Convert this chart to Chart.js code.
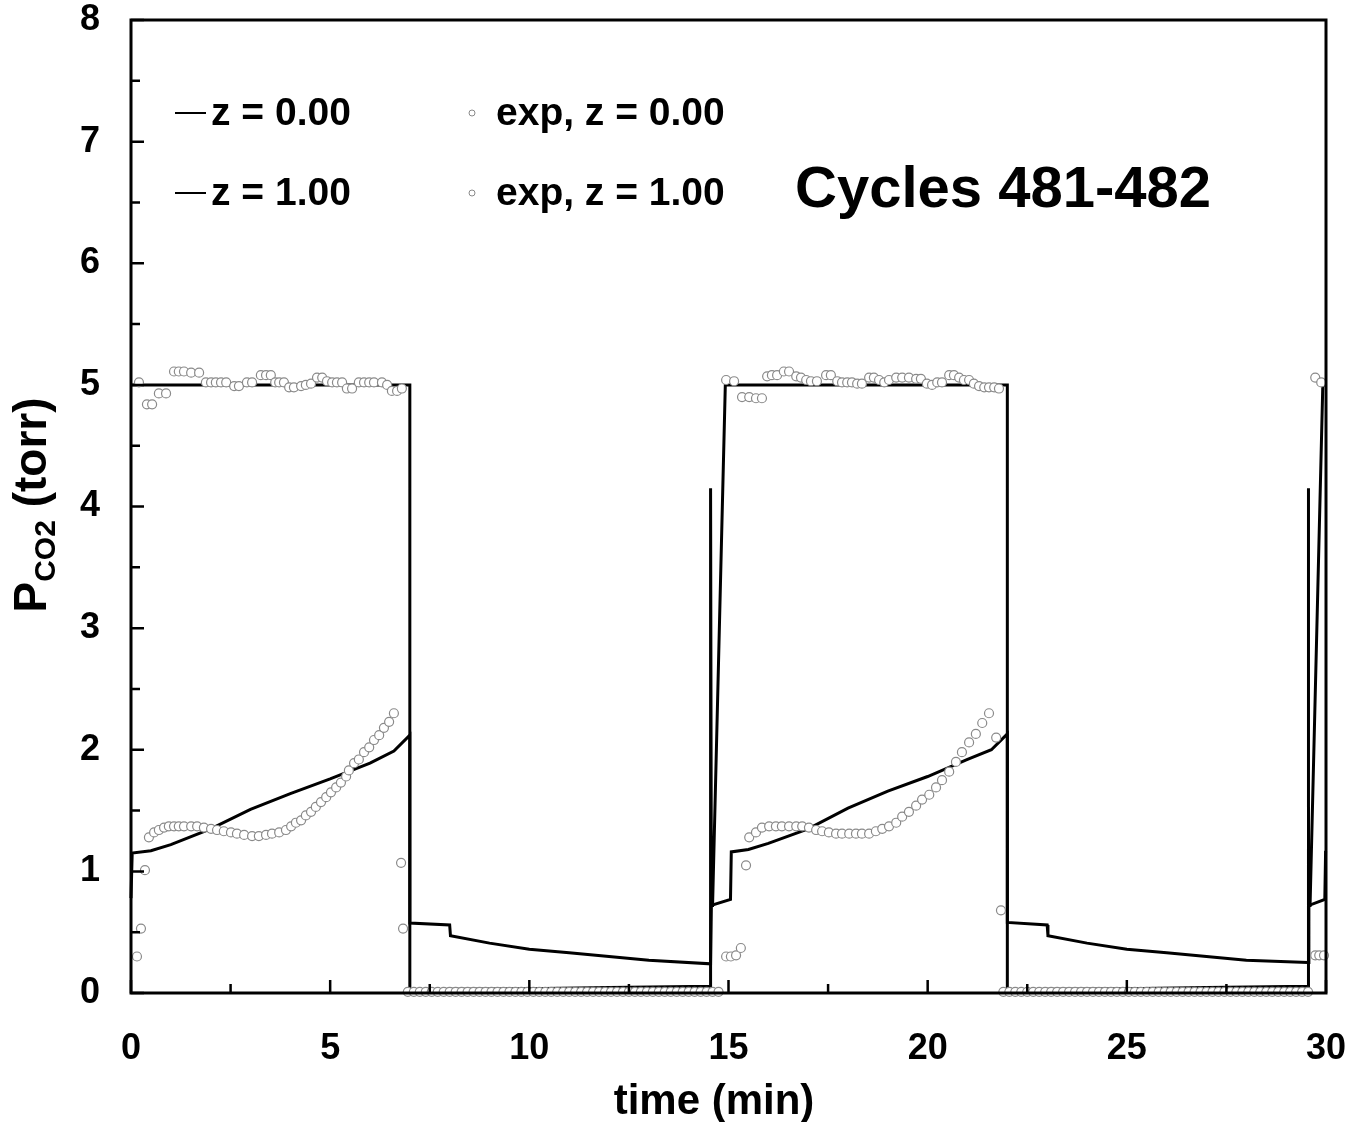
<!DOCTYPE html>
<html>
<head>
<meta charset="utf-8">
<title>Cycles 481-482</title>
<script src="https://cdn.jsdelivr.net/npm/chart.js@4.4.1/dist/chart.umd.min.js"></script>
<style>
    html, body { margin: 0; padding: 0; background: #fff; }
    #chart { display: block; }
</style>
</head>
<body>
<canvas id="chart" width="1364" height="1122"></canvas>
<script>
// axis ticks
const xTickValues = [0, 5, 10, 15, 20, 25, 30];
const xMinorValues = [2.5, 7.5, 12.5, 17.5, 22.5, 27.5];
const yTickValues = [0, 1, 2, 3, 4, 5, 6, 7, 8];
const yMinorValues = [0.5, 1.5, 2.5, 3.5, 4.5, 5.5, 6.5, 7.5];

// model, z = 0.00 (solid line)
const modelZ0Time = [0, 7.0, 7.0, 8.0, 10.0, 12.0, 14.55, 14.55, 14.57, 14.6, 14.92, 15.0,
    22.0, 22.0, 23.0, 25.0, 27.0, 29.55, 29.55, 29.57, 29.6, 29.92, 30.0];
const modelZ0P = [5.0, 5.0, 0.02, 0.03, 0.035, 0.045, 0.055, 4.15, 0.72, 0.72, 5.0, 5.0,
    5.0, 0.02, 0.03, 0.035, 0.045, 0.055, 4.15, 0.72, 0.72, 5.0, 5.0];

// model, z = 1.00 (solid line)
const modelZ1Time = [0, 0.03, 0.5, 1.0, 2.0, 3.0, 4.0, 5.0, 6.0, 6.6,
    7.0, 7.0, 8.0, 8.02, 9.0, 10.0, 11.0, 12.0, 13.0, 14.55,
    14.57, 15.05, 15.07, 15.5, 16.0, 17.0, 18.0, 19.0, 20.0, 21.0,
    21.6, 22.0, 22.0, 23.0, 23.02, 24.0, 25.0, 26.0, 27.0, 28.0,
    29.55, 29.57, 29.97, 29.99];
const modelZ1P = [0.78, 1.15, 1.17, 1.22, 1.35, 1.51, 1.64, 1.76, 1.89, 1.99,
    2.12, 0.575, 0.56, 0.47, 0.41, 0.36, 0.33, 0.30, 0.27, 0.24,
    0.72, 0.77, 1.16, 1.18, 1.23, 1.35, 1.52, 1.66, 1.78, 1.92,
    2.0, 2.13, 0.58, 0.56, 0.47, 0.41, 0.36, 0.33, 0.30, 0.27,
    0.25, 0.72, 0.77, 1.17];

// experiment, z = 0.00 : feed steps
const expZ0FeedTime = [
    0.2, 0.4, 0.53, 0.7, 0.88, 1.08, 1.2, 1.33, 1.51, 1.71,
    1.88, 2.01, 2.13, 2.26, 2.39, 2.59, 2.71, 2.91, 3.04, 3.26,
    3.39, 3.51, 3.62, 3.72, 3.84, 3.97, 4.09, 4.27, 4.39, 4.52,
    4.67, 4.8, 4.92, 5.05, 5.17, 5.3, 5.42, 5.55, 5.72, 5.85,
    5.98, 6.1, 6.3, 6.43, 6.55, 6.68, 6.8,
    14.94, 15.14, 15.34, 15.52, 15.69, 15.84, 15.97, 16.09, 16.22, 16.39,
    16.52, 16.7, 16.82, 16.95, 17.07, 17.22, 17.45, 17.57, 17.73, 17.85,
    17.98, 18.1, 18.23, 18.35, 18.53, 18.65, 18.78, 18.91, 19.03, 19.21,
    19.36, 19.53, 19.71, 19.83, 19.98, 20.11, 20.24, 20.36, 20.54, 20.66,
    20.79, 20.91, 21.04, 21.16, 21.29, 21.42, 21.54, 21.67, 21.79,
    29.73, 29.88];
const expZ0FeedP = [
    5.02, 4.84, 4.84, 4.93, 4.93, 5.11, 5.11, 5.11, 5.10, 5.10,
    5.02, 5.02, 5.02, 5.02, 5.02, 4.99, 4.99, 5.02, 5.02, 5.08,
    5.08, 5.08, 5.02, 5.02, 5.02, 4.98, 4.98, 4.99, 5.00, 5.01,
    5.06, 5.06, 5.03, 5.02, 5.02, 5.02, 4.97, 4.97, 5.02, 5.02,
    5.02, 5.02, 5.02, 5.00, 4.95, 4.95, 4.97,
    5.04, 5.03, 4.90, 4.90, 4.89, 4.89, 5.07, 5.08, 5.08, 5.11,
    5.11, 5.07, 5.06, 5.04, 5.03, 5.03, 5.08, 5.08, 5.03, 5.02,
    5.02, 5.02, 5.01, 5.01, 5.06, 5.06, 5.04, 5.02, 5.04, 5.06,
    5.06, 5.06, 5.05, 5.05, 5.01, 5.00, 5.02, 5.02, 5.08, 5.08,
    5.06, 5.04, 5.04, 5.01, 4.99, 4.98, 4.98, 4.98, 4.97,
    5.06, 5.02];

// experiment, z = 0.00 : regeneration steps
const expZ0RegenTime = [
    6.95, 7.1, 7.25, 7.4, 7.55, 7.7, 7.85, 8.0, 8.15, 8.3,
    8.45, 8.6, 8.75, 8.9, 9.05, 9.2, 9.35, 9.5, 9.65, 9.8,
    9.95, 10.1, 10.25, 10.4, 10.55, 10.7, 10.85, 11.0, 11.15, 11.3,
    11.45, 11.6, 11.75, 11.9, 12.05, 12.2, 12.35, 12.5, 12.65, 12.8,
    12.95, 13.1, 13.25, 13.4, 13.55, 13.7, 13.85, 14.0, 14.15, 14.3,
    14.45, 14.6, 14.75,
    21.9, 22.05, 22.2, 22.35, 22.5, 22.65, 22.8, 22.95, 23.1, 23.25,
    23.4, 23.55, 23.7, 23.85, 24.0, 24.15, 24.3, 24.45, 24.6, 24.75,
    24.9, 25.05, 25.2, 25.35, 25.5, 25.65, 25.8, 25.95, 26.1, 26.25,
    26.4, 26.55, 26.7, 26.85, 27.0, 27.15, 27.3, 27.45, 27.6, 27.75,
    27.9, 28.05, 28.2, 28.35, 28.5, 28.65, 28.8, 28.95, 29.1, 29.25,
    29.4, 29.55];
const expZ0RegenP = [
    0.01, 0.01, 0.01, 0.01, 0.01, 0.01, 0.01, 0.01, 0.01, 0.01,
    0.01, 0.01, 0.01, 0.01, 0.01, 0.01, 0.01, 0.01, 0.01, 0.01,
    0.01, 0.01, 0.01, 0.01, 0.01, 0.01, 0.01, 0.01, 0.01, 0.01,
    0.01, 0.01, 0.01, 0.01, 0.01, 0.01, 0.01, 0.01, 0.01, 0.01,
    0.01, 0.01, 0.01, 0.01, 0.01, 0.01, 0.01, 0.01, 0.01, 0.01,
    0.01, 0.01, 0.01,
    0.01, 0.01, 0.01, 0.01, 0.01, 0.01, 0.01, 0.01, 0.01, 0.01,
    0.01, 0.01, 0.01, 0.01, 0.01, 0.01, 0.01, 0.01, 0.01, 0.01,
    0.01, 0.01, 0.01, 0.01, 0.01, 0.01, 0.01, 0.01, 0.01, 0.01,
    0.01, 0.01, 0.01, 0.01, 0.01, 0.01, 0.01, 0.01, 0.01, 0.01,
    0.01, 0.01, 0.01, 0.01, 0.01, 0.01, 0.01, 0.01, 0.01, 0.01,
    0.01, 0.01];

// experiment, z = 1.00
const expZ1Time = [
    0.15, 0.25, 0.35, 0.45, 0.58, 0.7, 0.83, 0.95, 1.08, 1.2,
    1.33, 1.51, 1.66, 1.83, 2.01, 2.16, 2.33, 2.51, 2.66, 2.84,
    3.04, 3.21, 3.39, 3.54, 3.72, 3.89, 4.02, 4.14, 4.27, 4.39,
    4.52, 4.64, 4.77, 4.9, 5.02, 5.15, 5.27, 5.4, 5.47, 5.6,
    5.72, 5.85, 5.98, 6.1, 6.23, 6.35, 6.48, 6.6, 6.78, 6.83,
    14.94, 15.06, 15.19, 15.31, 15.44, 15.52, 15.69, 15.84, 16.02, 16.19,
    16.34, 16.52, 16.7, 16.85, 17.02, 17.2, 17.35, 17.52, 17.7, 17.85,
    18.03, 18.2, 18.35, 18.53, 18.7, 18.86, 19.03, 19.21, 19.36, 19.53,
    19.71, 19.86, 20.04, 20.21, 20.36, 20.54, 20.71, 20.86, 21.04, 21.21,
    21.37, 21.54, 21.72, 21.84,
    29.73, 29.83, 29.95];
const expZ1P = [
    0.30, 0.53, 1.01, 1.28, 1.32, 1.34, 1.36, 1.37, 1.37, 1.37,
    1.37, 1.37, 1.37, 1.36, 1.35, 1.34, 1.33, 1.32, 1.31, 1.30,
    1.29, 1.29, 1.30, 1.31, 1.32, 1.34, 1.37, 1.40, 1.42, 1.46,
    1.49, 1.53, 1.57, 1.61, 1.65, 1.69, 1.73, 1.78, 1.83, 1.89,
    1.92, 1.98, 2.02, 2.08, 2.12, 2.18, 2.23, 2.30, 1.07, 0.53,
    0.30, 0.30, 0.31, 0.37, 1.05, 1.28, 1.32, 1.36, 1.37, 1.37,
    1.37, 1.37, 1.37, 1.37, 1.36, 1.34, 1.33, 1.32, 1.31, 1.31,
    1.31, 1.31, 1.31, 1.31, 1.33, 1.35, 1.37, 1.40, 1.45, 1.49,
    1.54, 1.59, 1.63, 1.69, 1.75, 1.82, 1.90, 1.98, 2.06, 2.13,
    2.22, 2.30, 2.10, 0.68,
    0.31, 0.31, 0.31];

const FONT = '"Liberation Sans", Arial, Helvetica, sans-serif';
const CIRCLE_EDGE = "#8a8a8a";

function toPoints(times, values) {
    return times.map((t, i) => ({ x: t, y: values[i] }));
}

// border box and inward tick marks
const framePlugin = {
    id: "frame",
    afterDatasetsDraw(chart) {
        const { ctx, chartArea: a, scales } = chart;
        const x = scales.x, y = scales.y;
        ctx.save();
        ctx.strokeStyle = "#000";
        ctx.lineWidth = 3;
        ctx.strokeRect(a.left, a.top, a.right - a.left, a.bottom - a.top);

        ctx.lineWidth = 2.5;
        ctx.beginPath();
        xTickValues.forEach((v) => {
            const px = x.getPixelForValue(v);
            ctx.moveTo(px, a.bottom);
            ctx.lineTo(px, a.bottom - 13);
        });
        xMinorValues.forEach((v) => {
            const px = x.getPixelForValue(v);
            ctx.moveTo(px, a.bottom);
            ctx.lineTo(px, a.bottom - 9);
        });
        yTickValues.forEach((v) => {
            const py = y.getPixelForValue(v);
            ctx.moveTo(a.left, py);
            ctx.lineTo(a.left + 13, py);
        });
        yMinorValues.forEach((v) => {
            const py = y.getPixelForValue(v);
            ctx.moveTo(a.left, py);
            ctx.lineTo(a.left + 9, py);
        });
        ctx.stroke();
        ctx.restore();
    }
};

// legend, annotation and axis titles
const labelPlugin = {
    id: "labels",
    afterDraw(chart) {
        const ctx = chart.ctx;
        ctx.save();
        ctx.fillStyle = "#000";
        ctx.textBaseline = "middle";
        ctx.textAlign = "left";

        // legend
        const rows = [
            { y: 113, line: "z = 0.00", exp: "exp, z = 0.00" },
            { y: 193, line: "z = 1.00", exp: "exp, z = 1.00" }
        ];
        ctx.font = `bold 39px ${FONT}`;
        rows.forEach((r) => {
            ctx.strokeStyle = "#000";
            ctx.lineWidth = 2;
            ctx.beginPath();
            ctx.moveTo(175, r.y);
            ctx.lineTo(206, r.y);
            ctx.stroke();
            ctx.fillText(r.line, 211, r.y + 1);

            ctx.strokeStyle = CIRCLE_EDGE;
            ctx.lineWidth = 1;
            ctx.beginPath();
            ctx.arc(472, r.y, 3, 0, Math.PI * 2);
            ctx.stroke();
            ctx.fillText(r.exp, 496, r.y + 1);
        });

        ctx.font = `bold 58px ${FONT}`;
        ctx.fillText("Cycles 481-482", 795, 191);

        // x title
        ctx.textAlign = "center";
        ctx.font = `bold 42px ${FONT}`;
        ctx.fillText("time (min)", 714, 1102);

        // y title with subscript
        ctx.translate(30, 505);
        ctx.rotate(-Math.PI / 2);
        ctx.textAlign = "left";
        ctx.textBaseline = "alphabetic";
        ctx.font = `bold 46px ${FONT}`;
        const wP = ctx.measureText("P").width;
        const wT = ctx.measureText(" (torr)").width;
        ctx.font = `bold 30px ${FONT}`;
        const wS = ctx.measureText("CO2").width;
        let sx = -(wP + wS + wT) / 2;
        ctx.font = `bold 46px ${FONT}`;
        ctx.fillText("P", sx, 16);
        sx += wP;
        ctx.font = `bold 30px ${FONT}`;
        ctx.fillText("CO2", sx, 25);
        sx += wS;
        ctx.font = `bold 46px ${FONT}`;
        ctx.fillText(" (torr)", sx, 16);
        ctx.restore();
    }
};

const lineStyle = {
    showLine: true,
    borderColor: "#000",
    borderWidth: 3,
    pointRadius: 0,
    tension: 0,
    fill: false,
    clip: false,
    order: 2
};
const circleStyle = {
    showLine: false,
    pointStyle: "circle",
    pointRadius: 4.5,
    pointBorderWidth: 1.2,
    pointBorderColor: CIRCLE_EDGE,
    pointBackgroundColor: "#fff",
    clip: false,
    order: 1
};

const tickFont = { family: FONT, size: 36, weight: "bold" };

function noPadding(s) {
    s.paddingTop = 0;
    s.paddingBottom = 0;
    s.paddingLeft = 0;
    s.paddingRight = 0;
}

new Chart(document.getElementById("chart").getContext("2d"), {
    type: "scatter",
    data: {
        datasets: [
            Object.assign({ label: "z = 0.00", data: toPoints(modelZ0Time, modelZ0P) }, lineStyle),
            Object.assign({ label: "z = 1.00", data: toPoints(modelZ1Time, modelZ1P) }, lineStyle),
            Object.assign({
                label: "exp, z = 0.00",
                data: toPoints(expZ0FeedTime, expZ0FeedP).concat(toPoints(expZ0RegenTime, expZ0RegenP))
            }, circleStyle),
            Object.assign({ label: "exp, z = 1.00", data: toPoints(expZ1Time, expZ1P) }, circleStyle)
        ]
    },
    options: {
        responsive: false,
        animation: false,
        layout: { padding: { top: 20, right: 38, bottom: 0, left: 0 } },
        plugins: {
            legend: { display: false },
            tooltip: { enabled: false }
        },
        scales: {
            x: {
                type: "linear",
                min: 0,
                max: 30,
                afterBuildTicks: (s) => { s.ticks = xTickValues.map((v) => ({ value: v })); },
                ticks: { color: "#000", font: tickFont, padding: 34, maxRotation: 0 },
                grid: { display: false, drawTicks: false },
                border: { display: false },
                afterFit: (s) => { s.height = 129; noPadding(s); }
            },
            y: {
                type: "linear",
                min: 0,
                max: 8,
                afterBuildTicks: (s) => { s.ticks = yTickValues.map((v) => ({ value: v })); },
                ticks: { color: "#000", font: tickFont, padding: 31 },
                grid: { display: false, drawTicks: false },
                border: { display: false },
                afterFit: (s) => { s.width = 131; noPadding(s); }
            }
        }
    },
    plugins: [framePlugin, labelPlugin]
});
</script>
</body>
</html>
